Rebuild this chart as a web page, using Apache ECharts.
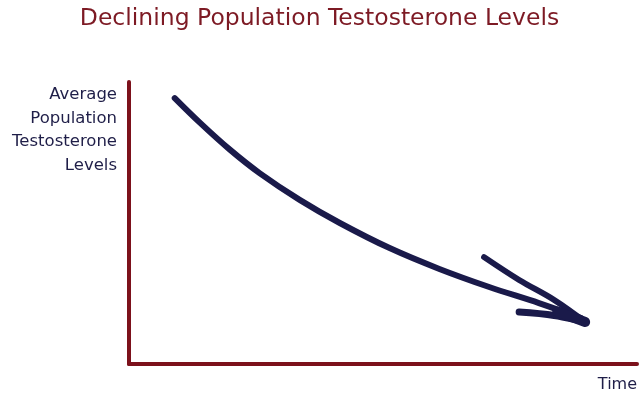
<!DOCTYPE html>
<html>
<head>
<meta charset="utf-8">
<title>Declining Population Testosterone Levels</title>
<script src="https://cdn.jsdelivr.net/npm/echarts@6/dist/echarts.min.js"></script>
<style>
  html, body { margin: 0; padding: 0; background: #fff; }
  #main { width: 639px; height: 397px; }
</style>
</head>
<body>
<div id="main"></div>
<script type="text/javascript">
// schematic trend: time (0-100) vs level (0-100)
var timePoints = [9.0, 14.0, 19.8, 25.7, 33.6, 41.5, 51.3, 61.1, 70.9, 80.7, 89.0];
var levelPoints = [94.3, 85.5, 76.1, 67.7, 58.2, 50.0, 41.1, 33.7, 27.3, 21.6, 16.3];
// arrow head barbs
var barbUpperX = [69.9, 76.8, 83.7, 89.8];
var barbUpperY = [37.9, 29.8, 22.7, 14.9];
var barbLowerX = [76.8, 83.7, 89.8];
var barbLowerY = [18.4, 17.2, 14.9];
var headFillX = [84.3, 89.8];
var headFillY = [18.6, 14.9];

var titleText = 'Declining Population Testosterone Levels';
var yNameLines = ['Average', 'Population', 'Testosterone', 'Levels'];
var xName = 'Time';

function pairs(xs, ys) {
  var out = [];
  for (var i = 0; i < xs.length; i++) out.push([xs[i], ys[i]]);
  return out;
}

var myChart = echarts.init(document.getElementById('main'));
var navy = '#1a1a4a';
var red = '#7c111b';
var fontFam = '"DejaVu Sans", sans-serif';

var labels = yNameLines.map(function (t, i) {
  return {
    type: 'text', x: 117, y: 95 + i * 23.5,
    style: { text: t, fill: '#1f1e48', font: '16.5px ' + fontFam, align: 'right', verticalAlign: 'middle' }
  };
});
labels.push({
  type: 'text', x: 637, y: 385,
  style: { text: xName, fill: '#1f1e48', font: '16px ' + fontFam, align: 'right', verticalAlign: 'middle' }
});

function stroke(xs, ys, w) {
  return {
    type: 'line', smooth: 0.35, symbol: 'none', silent: true,
    data: pairs(xs, ys),
    lineStyle: { color: navy, width: w, cap: 'round', join: 'round' }
  };
}

var option = {
  animation: false,
  title: {
    text: titleText,
    left: 'center',
    top: 2,
    textStyle: { color: '#7d1a24', fontSize: 23.5, fontWeight: 'normal', fontFamily: fontFam }
  },
  grid: { left: 129, right: 2, top: 82, bottom: 33 },
  xAxis: {
    type: 'value', min: 0, max: 100,
    axisLine: { show: true, onZero: false, lineStyle: { color: red, width: 4, cap: 'round' } },
    axisTick: { show: false }, axisLabel: { show: false }, splitLine: { show: false }
  },
  yAxis: {
    type: 'value', min: 0, max: 100,
    axisLine: { show: true, onZero: false, lineStyle: { color: red, width: 4, cap: 'round' } },
    axisTick: { show: false }, axisLabel: { show: false }, splitLine: { show: false }
  },
  graphic: labels,
  series: [
    stroke(timePoints, levelPoints, 6),
    stroke(barbUpperX, barbUpperY, 6),
    stroke(barbLowerX, barbLowerY, 7),
    stroke(headFillX, headFillY, 10)
  ]
};
myChart.setOption(option);
</script>
</body>
</html>
